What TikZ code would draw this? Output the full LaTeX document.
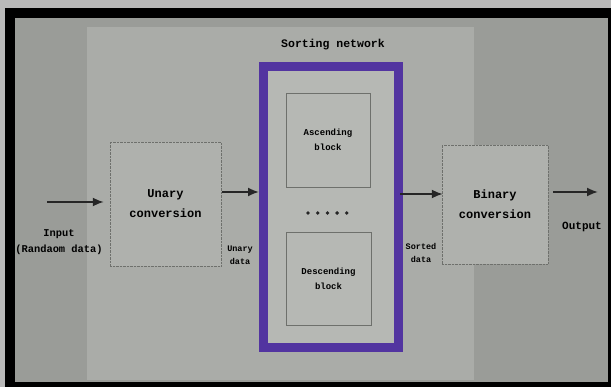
\documentclass[tikz,border=0pt]{standalone}
\usepackage{fontspec}
\setmonofont{Liberation Mono}
\definecolor{wallgray}{RGB}{154,156,152}
\definecolor{slidegray}{RGB}{170,172,168}
\definecolor{innergray}{RGB}{182,184,180}
\definecolor{netpurple}{RGB}{82,52,160}
\definecolor{boxline}{RGB}{110,112,108}
\tikzset{
  convbox/.style={draw=boxline, densely dotted, thin, fill=slidegray!60!innergray,
    inner sep=0pt, font=\ttfamily\bfseries\fontsize{12}{20}\selectfont, align=center},
  sortbox/.style={draw=boxline, thin, fill=innergray, inner sep=0pt,
    font=\ttfamily\bfseries\fontsize{9}{15}\selectfont, align=center},
  arr/.style={-{Latex[length=11pt,width=9pt]}, line width=1.8pt, black!85},
  smalllbl/.style={font=\ttfamily\bfseries\fontsize{8.5}{13}\selectfont, align=center, inner sep=0pt}
}
\usetikzlibrary{arrows.meta}
\begin{document}
\begin{tikzpicture}[x=1pt,y=-1pt]
  % frame of the photo
  \fill[gray!55] (0,0) rectangle (611,387);
  \fill[black] (5,8) rectangle (611,387);
  \fill[wallgray] (15,18) rectangle (608,382);
  \fill[slidegray] (87,27) rectangle (474,380);
  \useasboundingbox (0,0) rectangle (611,387);

  % sorting network
  \node[font=\ttfamily\bfseries\fontsize{11.5}{14}\selectfont] (title) at (333,45) {Sorting network};
  \node[draw=netpurple, line width=9pt, fill=innergray, minimum width=135pt, minimum height=281pt,
        inner sep=0pt] (sortnet) at (331,207) {};
  \node[sortbox, minimum width=84pt, minimum height=94pt] (asc) at (328,140) {Ascending\\block};
  \node[sortbox, minimum width=85pt, minimum height=93pt] (desc) at (328.5,278.5) {Descending\\block};
  \foreach \i in {0,...,4}
    \fill[black!85] (308+9.7*\i,213) circle [radius=1.9pt];

  % conversion blocks
  \node[convbox, minimum width=111pt, minimum height=124pt] (unary) at (165.5,204) {Unary\\conversion};
  \node[convbox, minimum width=106pt, minimum height=119pt] (binary) at (495,204.5) {Binary\\conversion};

  % labels
  \node[font=\ttfamily\bfseries\fontsize{10.4}{16}\selectfont, align=center, inner sep=0pt] (input) at (59,242) {Input\\(Randaom data)};
  \node[smalllbl] (unarydata) at (240,255) {Unary\\data};
  \node[smalllbl] (sorteddata) at (421,253) {Sorted\\data};
  \node[font=\ttfamily\bfseries\fontsize{11}{14}\selectfont, inner sep=0pt] (output) at (582,227) {Output};

  % arrows
  \coordinate (instart) at (47,202);
  \coordinate (outend) at (598,192);
  \draw[arr] (instart) -- ([xshift=-6pt]unary.west |- instart);
  \draw[arr] ([xshift=1pt]unary.east |- 0,192) -- (sortnet.west |- 0,192);
  \draw[arr] ([xshift=-3pt]sortnet.east |- 0,194) -- ([xshift=1pt]binary.west |- 0,194);
  \draw[arr] ([xshift=5pt]binary.east |- outend) -- (outend);
\end{tikzpicture}
\end{document}
